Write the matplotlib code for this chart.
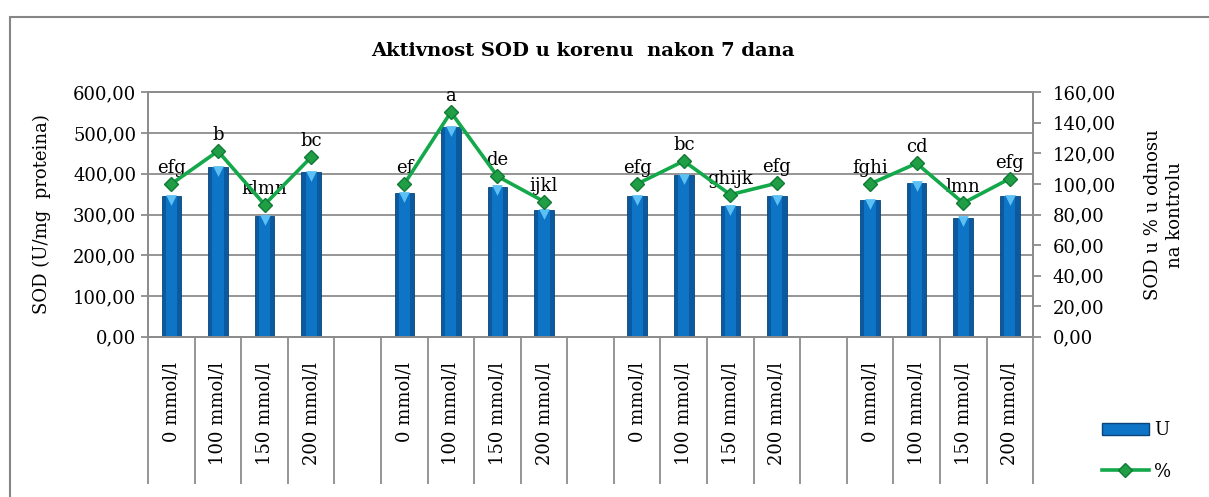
#SOD activity in root after 7 days - bars (U) and line (% of control)
import numpy as np
import matplotlib.pyplot as plt
from matplotlib.lines import Line2D
from matplotlib.patches import Patch, Rectangle

#Data (empty strings / NaN = gap between groups)
labels = ['0 mmol/l', '100 mmol/l', '150 mmol/l', '200 mmol/l', '',
          '0 mmol/l', '100 mmol/l', '150 mmol/l', '200 mmol/l', '',
          '0 mmol/l', '100 mmol/l', '150 mmol/l', '200 mmol/l', '',
          '0 mmol/l', '100 mmol/l', '150 mmol/l', '200 mmol/l']
sod_u = [345, 417, 296, 404, np.nan,
         352, 515, 368, 310, np.nan,
         345, 396, 320, 345, np.nan,
         335, 378, 292, 345]
sod_pct = [100, 121.5, 86.5, 117.5, np.nan,
           100, 147, 105, 88.5, np.nan,
           100, 115, 93, 100.5, np.nan,
           100, 113.5, 87.5, 103.5]
letters = ['efg', 'b', 'klmn', 'bc', '',
           'ef', 'a', 'de', 'ijkl', '',
           'efg', 'bc', 'ghijk', 'efg', '',
           'fghi', 'cd', 'lmn', 'efg']

plt.rcParams['font.family'] = ['DejaVu Serif']
grey = '#8c8c8c'

x = np.arange(len(labels))
u = np.array(sod_u)
pct = np.array(sod_pct)

fig = plt.figure(figsize=(12.09, 4.97), dpi=100)
ax = fig.add_axes([0.1225, 0.3225, 0.732, 0.4918])

#Bars with a lighter core and a light bevel on top
ax.bar(x, u, width=0.42, color='#0b5aa0', edgecolor='#0a4478', linewidth=0.6, zorder=2)
ax.bar(x, u, width=0.24, color='#0e74c6', linewidth=0, zorder=2)
ax.scatter(x, u - 9, marker='v', s=60, color='#5cc0f5', linewidths=0, zorder=3)

ax.set_xlim(-0.5, len(labels) - 0.5)
ax.set_ylim(0, 600)
ax.set_yticks(np.arange(0, 601, 100))
ax.set_yticklabels([f'{v:.2f}'.replace('.', ',') for v in np.arange(0, 601, 100)], fontsize=13)
ax.yaxis.grid(True, color=grey, linewidth=1.3, zorder=0)
ax.set_axisbelow(True)
ax.set_ylabel('SOD (U/mg  proteina)', fontsize=13, labelpad=16)

#category axis: labels in slots, separators as long minor ticks
ax.set_xticks(x)
ax.set_xticklabels(labels, rotation=90, fontsize=13, va='top')
ax.tick_params(axis='x', which='major', length=0, pad=18)
ax.set_xticks(np.arange(-0.5, len(labels)), minor=True)
ax.tick_params(axis='x', which='minor', length=106, width=1.3, color=grey)
ax.tick_params(axis='y', length=5, width=1.3, color=grey)
for s in ax.spines.values():
    s.set_color(grey)
    s.set_linewidth(1.3)

#Second axis for percentages
ax2 = ax.twinx()
ax2.set_ylim(0, 160)
ax2.set_yticks(np.arange(0, 161, 20))
ax2.set_yticklabels([f'{v:.2f}'.replace('.', ',') for v in np.arange(0, 161, 20)], fontsize=13)
ax2.tick_params(axis='y', length=6, width=1.3, color=grey, pad=8)
for s in ax2.spines.values():
    s.set_color(grey)
    s.set_linewidth(1.3)
ax2.set_ylabel('SOD u % u odnosu\nna kontrolu', fontsize=13, labelpad=20, linespacing=1.3)
ax2.plot(x, pct, '-D', color='#13a84a', linewidth=2.6, markersize=7.5,
         markerfacecolor='#1f9e45', markeredgecolor='#0f7a34', zorder=4)
for xi, p, t in zip(x, pct, letters):
    if t:
        ax2.annotate(t, (xi, p), xytext=(0, 5), textcoords='offset points',
                     ha='center', va='bottom', fontsize=13)

fig.text(0.482, 0.897, 'Aktivnost SOD u korenu  nakon 7 dana', ha='center', va='center',
         fontsize=14, fontweight='bold')

#legend at lower right
handles = [Patch(facecolor='#0e74c6', edgecolor='#0a4478'),
           Line2D([0], [0], color='#13a84a', linewidth=2.6, marker='D', markersize=7.5,
                  markerfacecolor='#1f9e45', markeredgecolor='#0f7a34')]
fig.legend(handles, ['U', '%'], loc='lower left', bbox_to_anchor=(0.898, 0.0),
           frameon=False, fontsize=13, handlelength=2.6, labelspacing=1.3, handletextpad=0.3)

#chart border (runs off the right/bottom edge like in the original)
fig.patches.append(Rectangle((10 / 1209, -0.2), 1.2, 0.2 + 1 - 17 / 497,
                             transform=fig.transFigure, fill=False,
                             edgecolor='#868686', linewidth=1.5))

plt.savefig('out.png', dpi=100)
